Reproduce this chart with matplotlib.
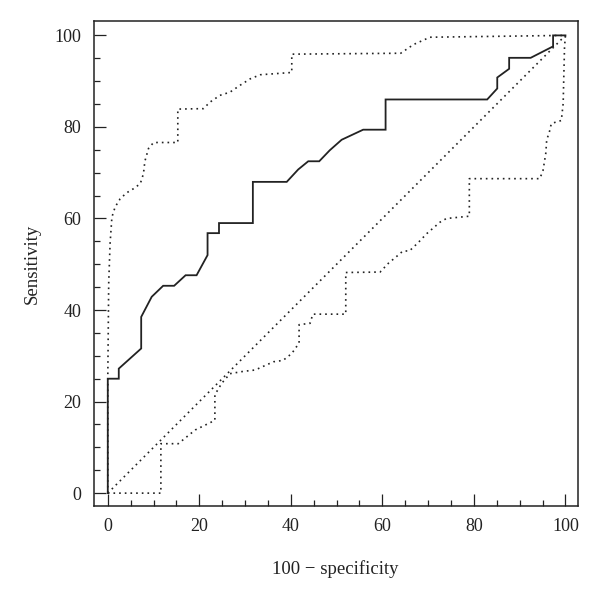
import matplotlib
matplotlib.use("Agg")
import matplotlib.pyplot as plt
from matplotlib.ticker import MultipleLocator

# ROC curve (100 - specificity, sensitivity)
roc_x = [0, 0, 2.4, 2.4, 7.3, 7.3, 9.6, 12.1, 14.5, 17.0, 19.4, 21.8, 21.8, 24.3, 24.3,
         31.7, 31.7, 39.1, 41.6, 43.8, 46.2, 48.5, 51.1, 55.8, 60.7, 60.7,
         82.9, 85.1, 85.1, 87.7, 87.7, 92.4, 97.3, 97.3, 100]
roc_y = [0, 25.0, 25.0, 27.2, 31.6, 38.5, 42.9, 45.3, 45.3, 47.6, 47.6, 52.0, 56.8, 56.8, 59.0,
         59.0, 68.0, 68.0, 70.7, 72.5, 72.5, 74.9, 77.2, 79.4, 79.4, 86.0,
         86.0, 88.4, 90.8, 92.7, 95.1, 95.1, 97.6, 100, 100]

# Upper confidence bound
up_x = [0, 0, 0.2, 0.5, 0.9, 1.6, 2.7, 4.1, 5.6, 7.1, 7.8, 8.1, 8.9, 10.0, 15.3, 15.3,
        20.9, 22.3, 24.5, 26.7, 28.9, 31.1, 33.3, 40.2, 40.2, 64.0, 66.8, 70.4, 100]
up_y = [0, 25, 45.8, 54.5, 60.3, 62.5, 64.3, 65.6, 66.5, 67.6, 69.8, 72.5, 75.3, 76.6, 76.6, 83.9,
        84.0, 85.4, 86.9, 87.6, 89.1, 90.5, 91.4, 91.9, 95.9, 96.1, 98.0, 99.6, 100]

# Lower confidence bound
lo_x = [0, 11.6, 11.6, 15.4, 19.1, 23.4, 23.4, 24.9, 26.7, 29.6, 32.2, 36.2, 38.3, 40.2,
        41.8, 41.8, 44.2, 44.8, 52.0, 52.0, 59.5, 61.3, 63.1, 64.5, 65.9, 67.8, 69.7,
        72.6, 74.0, 79.0, 79.0, 94.4, 95.1, 95.7, 95.9, 96.6, 96.9, 98.0, 99.1, 99.5, 99.8, 100]
lo_y = [0, 0, 10.8, 10.8, 13.8, 15.9, 21.5, 24.0, 26.1, 26.6, 26.9, 28.7, 29.0, 30.5,
        32.8, 36.8, 37.1, 39.1, 39.1, 48.2, 48.3, 50.2, 51.7, 52.9, 52.9, 54.7, 56.7,
        59.2, 60.0, 60.5, 68.7, 68.7, 70.5, 74.2, 77.1, 79.3, 80.7, 81.1, 81.4, 85.1, 97.5, 100]

diag = [0, 100]
ticks = [0, 20, 40, 60, 80, 100]

plt.rcParams['font.family'] = ['Liberation Serif', 'DejaVu Serif']

fig = plt.figure(figsize=(6.0, 5.89), dpi=100)
ax = fig.add_axes([0.156, 0.141, 0.807, 0.823])

dot = (0, (1, 2.4))
ax.plot(diag, diag, color='#222222', lw=1.2, linestyle=dot)
ax.plot(up_x, up_y, color='#222222', lw=1.2, linestyle=dot)
ax.plot(lo_x, lo_y, color='#222222', lw=1.2, linestyle=dot)
ax.plot(roc_x, roc_y, color='#222222', lw=1.3, solid_joinstyle='miter')

ax.set_xlim(-3.1, 102.7)
ax.set_ylim(-2.8, 103.1)
ax.set_xticks(ticks)
ax.set_yticks(ticks)
ax.xaxis.set_minor_locator(MultipleLocator(5))
ax.yaxis.set_minor_locator(MultipleLocator(5))
ax.tick_params(which='major', direction='in', length=8.5, width=0.9, labelsize=13,
               color='#222222', labelcolor='#222222', pad=9)
ax.tick_params(which='minor', direction='in', length=4.3, width=0.9, color='#222222')
for s in ax.spines.values():
    s.set_linewidth(1.1)
    s.set_color('#222222')

ax.set_xlabel('100 − specificity', fontsize=13.5, color='#222222', labelpad=18)
ax.set_ylabel('Sensitivity', fontsize=13.5, color='#222222', labelpad=10)

fig.savefig('out.png', dpi=100)
